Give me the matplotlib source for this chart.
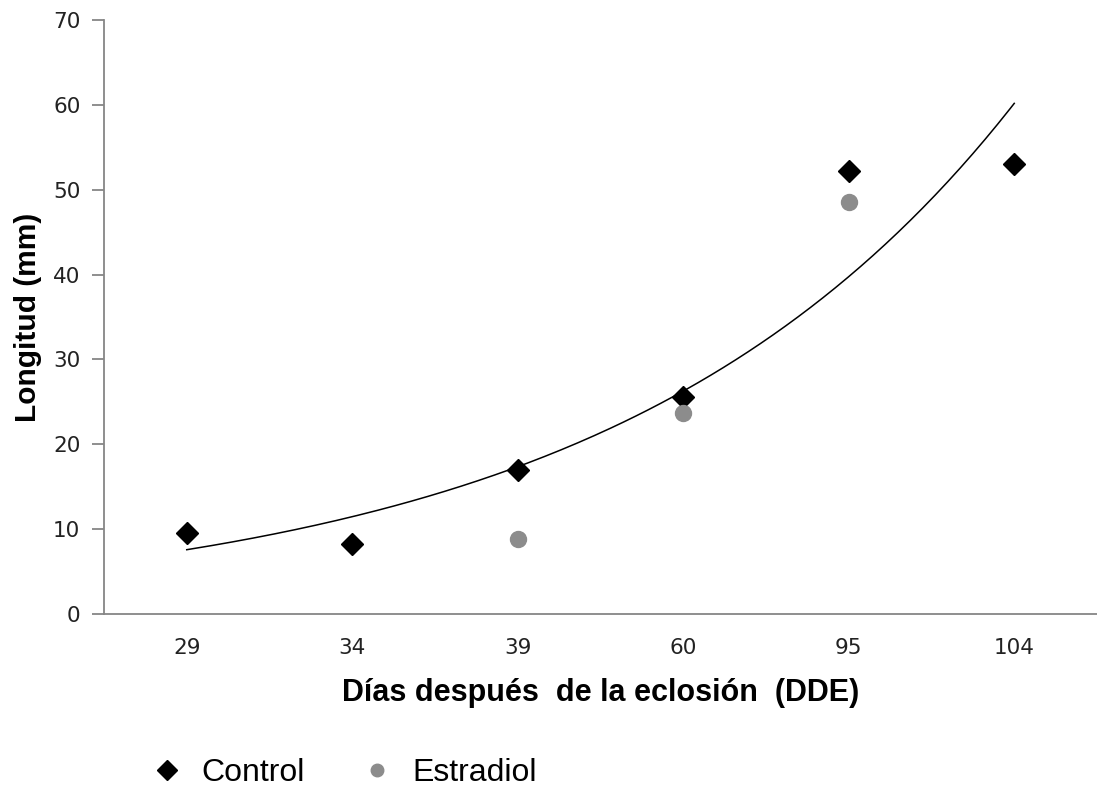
import numpy as np
import matplotlib.pyplot as plt
from matplotlib.lines import Line2D

dias = ['29', '34', '39', '60', '95', '104']
control = [9.6, 8.2, 17.0, 25.6, 52.2, 53.0]
estradiol_dias = ['39', '60', '95']
estradiol = [8.8, 23.7, 48.6]

pos = np.arange(1, len(dias) + 1)
est_pos = [dias.index(d) + 1 for d in estradiol_dias]

# exponential trendline fitted to control (like Excel)
b, ln_a = np.polyfit(pos, np.log(control), 1)
xs = np.linspace(pos[0], pos[-1], 200)
ys = np.exp(ln_a) * np.exp(b * xs)

fig = plt.figure(figsize=(10.97, 7.88), dpi=100)
ax = fig.add_axes([104 / 1097, 1 - 614 / 788, 1 - 104 / 1097, (614 - 20) / 788])

axis_col = '#868686'
ax.plot(xs, ys, color='black', lw=1.1, zorder=2)
ax.plot(pos, control, 'D', color='black', ms=11.5, ls='none', zorder=3)
ax.plot(est_pos, estradiol, 'o', color='#8c8c8c', ms=11.5, ls='none', zorder=3)

ax.set_xlim(0.5, 6.5)
ax.set_ylim(0, 70)
ax.set_yticks(range(0, 71, 10))
ax.set_xticks(pos)
ax.set_xticklabels(dias)
for s in ['top', 'right']:
    ax.spines[s].set_visible(False)
ax.spines['left'].set_color(axis_col)
ax.spines['bottom'].set_color(axis_col)
ax.spines['left'].set_linewidth(1.3)
ax.spines['bottom'].set_linewidth(1.3)
ax.tick_params(axis='y', length=9, width=1.3, color=axis_col, labelsize=15.5,
               labelcolor='#222222', pad=8)
ax.tick_params(axis='x', length=0, labelsize=15.5, labelcolor='#222222', pad=17)

ax.set_xlabel('Días después  de la eclosión  (DDE)', fontsize=22,
              fontweight='bold', family='Liberation Sans', labelpad=15)
ax.set_ylabel('Longitud (mm)', fontsize=21.5, fontweight='bold',
              family='Liberation Sans', labelpad=8)

handles = [
    Line2D([], [], marker='D', color='black', ls='none', ms=10),
    Line2D([], [], marker='o', color='#8c8c8c', ls='none', ms=9),
]
fig.legend(handles, ['Control', 'Estradiol'], loc='center left',
           bbox_to_anchor=(122 / 1097, 1 - 773 / 788), ncol=2, frameon=False,
           prop={'family': 'Liberation Sans', 'size': 23}, handletextpad=0.6,
           columnspacing=1.75, handlelength=1.0)

fig.savefig('out.png', dpi=100)
